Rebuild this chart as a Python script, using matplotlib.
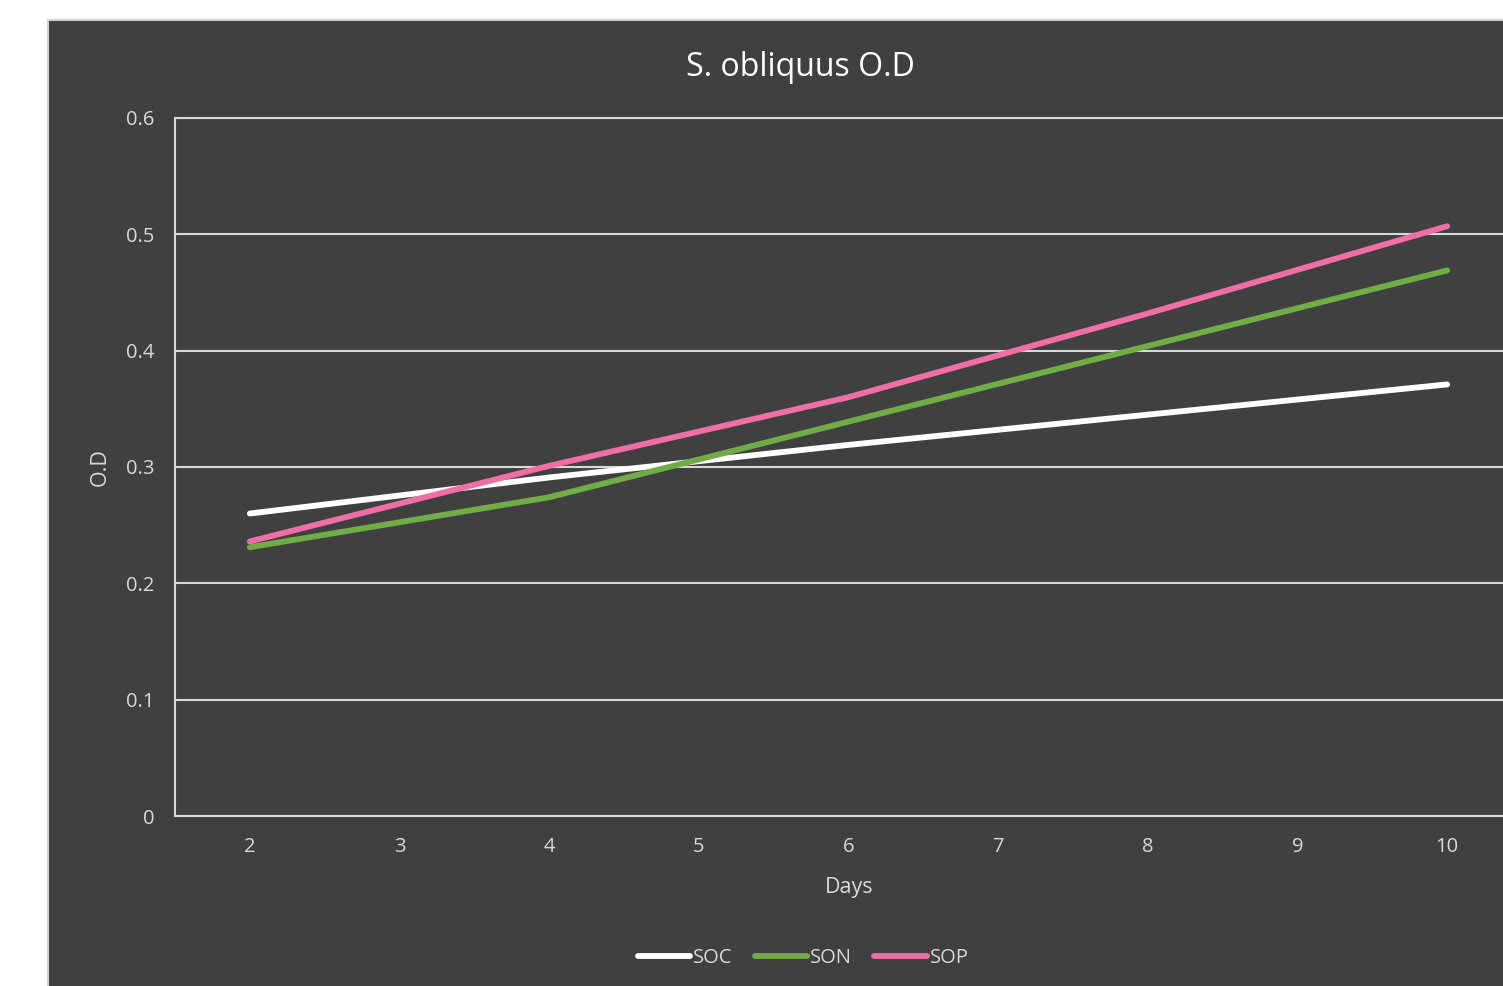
import matplotlib.pyplot as plt
from matplotlib.patches import Rectangle

# data
days = [2, 4, 6, 8, 10]
soc = [0.260, 0.291, 0.319, 0.345, 0.371]
son = [0.231, 0.274, 0.339, 0.404, 0.469]
sop = [0.236, 0.301, 0.360, 0.432, 0.507]
x_ticks = [2, 3, 4, 5, 6, 7, 8, 9, 10]
y_ticks = [0, 0.1, 0.2, 0.3, 0.4, 0.5, 0.6]

bg = '#404040'
txt = '#d9d9d9'
plt.rcParams['font.family'] = ['Open Sans', 'DejaVu Sans']

W, H = 1503, 986
fig = plt.figure(figsize=(W / 100, H / 100), dpi=100, facecolor='white')

# dark chart area
fig.patches.append(Rectangle((48 / W, -0.01), 1.0, 1 - 20 / H + 0.01,
                             transform=fig.transFigure, facecolor=bg,
                             edgecolor='#d0d0d0', linewidth=1.5, zorder=-1))

ax = fig.add_axes([175 / W, 1 - 816 / H, (1522 - 175) / W, (816 - 118) / H])
ax.set_zorder(2)
ax.set_facecolor(bg)

ax.plot(days, soc, color='white', lw=4.2, solid_capstyle='round', label='SOC', zorder=3)
ax.plot(days, son, color='#70ad47', lw=4.2, solid_capstyle='round', label='SON', zorder=3)
ax.plot(days, sop, color='#ef6ea8', lw=4.2, solid_capstyle='round', label='SOP', zorder=3)

ax.set_xlim(1.5, 10.5)
ax.set_ylim(0, 0.6)
ax.set_xticks(x_ticks)
ax.set_xticklabels([str(v) for v in x_ticks])
ax.set_yticks(y_ticks)
ax.set_yticklabels(['0', '0.1', '0.2', '0.3', '0.4', '0.5', '0.6'])
ax.tick_params(length=0, labelsize=14.5, labelcolor=txt)
ax.tick_params(axis='y', pad=15)
ax.tick_params(axis='x', pad=15)

ax.grid(axis='y', color=txt, lw=1.5)
ax.set_axisbelow(True)
for s in ax.spines.values():
    s.set_color(txt)
    s.set_linewidth(1.5)

fig.text(800 / W, 1 - 67 / H, 'S. obliquus O.D', color='white', fontsize=23,
         ha='center', va='center')
fig.text(849 / W, 1 - 888 / H, 'Days', color=txt, fontsize=15.5,
         ha='center', va='center')
fig.text(100 / W, 1 - 467 / H, 'O.D', color=txt, fontsize=15.5,
         ha='center', va='center', rotation=90)

leg = fig.legend(loc='center', bbox_to_anchor=(803 / W, 1 - 958 / H), ncol=3,
                 frameon=False, fontsize=14.5, handlelength=2.6,
                 handletextpad=0.15, columnspacing=1.1)
for t in leg.get_texts():
    t.set_color(txt)

fig.savefig('out.png', dpi=100, facecolor='white')
